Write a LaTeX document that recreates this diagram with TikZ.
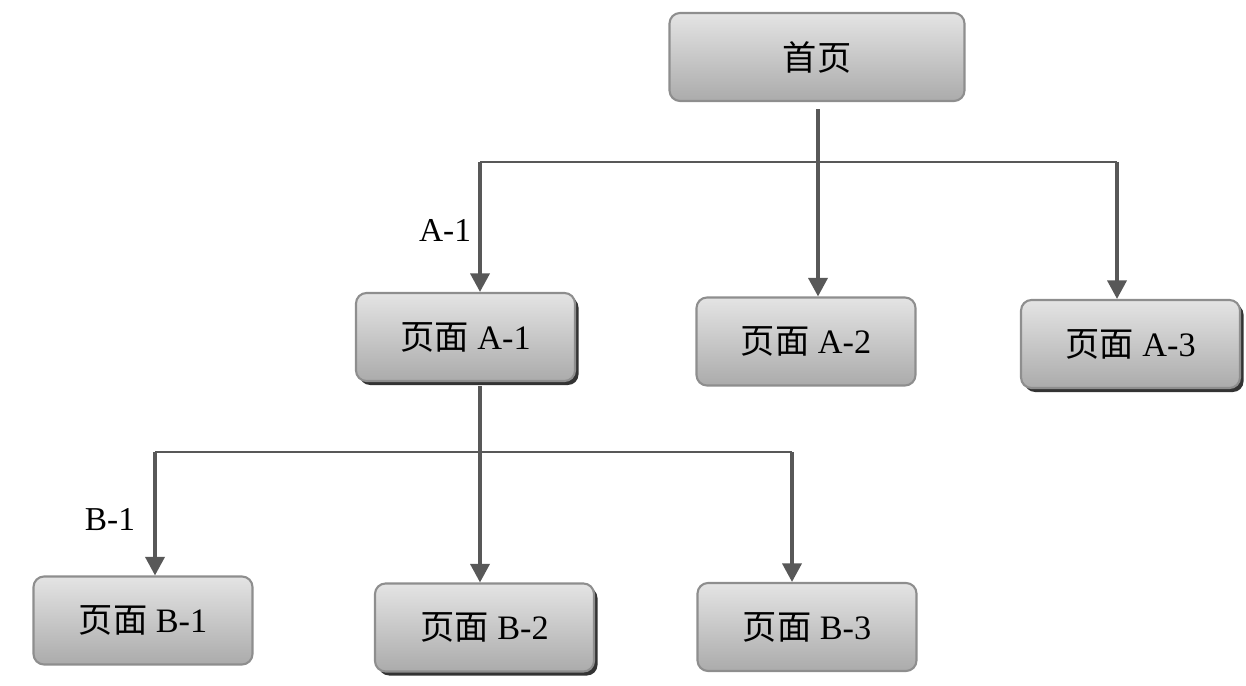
\documentclass[tikz,border=0pt]{standalone}
\usepackage{fontspec}
\setmainfont{Liberation Serif}
\newfontfamily\cjk{Noto Sans CJK SC}
\usepackage{tikz}
\usetikzlibrary{arrows.meta, positioning, calc, shadows}

\definecolor{boxtop}{HTML}{E4E4E4}
\definecolor{boxbot}{HTML}{ABABAB}
\definecolor{boxline}{HTML}{8E8E8E}
\definecolor{linkgray}{HTML}{585858}

\begin{document}
\begin{tikzpicture}[
    page/.style={draw=boxline, line width=1.2pt, rounded corners=6pt, top color=boxtop, bottom color=boxbot, minimum width=4.38cm, minimum height=1.76cm, font=\fontsize{19.5}{22}\selectfont, align=center},
    shadowed/.style={drop shadow={shadow xshift=0.07cm, shadow yshift=-0.08cm, fill=black!80, opacity=1}},
    conn/.style={draw=linkgray, line width=2pt, -{Triangle[length=0.37cm, width=0.38cm]}},
    bus/.style={draw=linkgray, line width=1.1pt},
    tag/.style={font=\fontsize{19}{22}\selectfont},
]
    \useasboundingbox (0,0) rectangle (24.92,-13.72);

    % top level
    \node[page, minimum width=5.9cm] (home) at (16.34, -1.14) {{\cjk 首页}};

    % level A
    \node[page, shadowed] (a1) at (9.31, -6.74) {{\cjk 页面} A-1};
    \node[page] (a2) at (16.12, -6.83) {{\cjk 页面} A-2};
    \node[page, shadowed] (a3) at (22.61, -6.88) {{\cjk 页面} A-3};

    % level B
    \node[page] (b1) at (2.86, -12.41) {{\cjk 页面} B-1};
    \node[page, shadowed] (b2) at (9.69, -12.55) {{\cjk 页面} B-2};
    \node[page] (b3) at (16.14, -12.54) {{\cjk 页面} B-3};

    % junctions
    \coordinate (jA1) at (9.6, -3.24);
    \coordinate (jA2) at (16.36, -3.24);
    \coordinate (jA3) at (22.34, -3.24);
    \coordinate (jB1) at (3.1, -9.04);
    \coordinate (jB2) at (9.6, -9.04);
    \coordinate (jB3) at (15.84, -9.04);

    \draw[bus] (jA1) -- (jA3);
    \draw[conn] ([yshift=-0.14cm]jA2 |- home.south) -- (jA2 |- a2.north);
    \draw[conn] (jA1) -- (jA1 |- a1.north);
    \draw[conn] (jA3) -- (jA3 |- a3.north);

    \draw[bus] (jB1) -- (jB3);
    \draw[conn] ([yshift=-0.08cm]jB2 |- a1.south) -- (jB2 |- b2.north);
    \draw[conn] (jB1) -- (jB1 |- b1.north);
    \draw[conn] (jB3) -- (jB3 |- b3.north);

    \node[tag] (ta) at (8.9, -4.6) {A-1};
    \node[tag] (tb) at (2.2, -10.4) {B-1};
\end{tikzpicture}
\end{document}
